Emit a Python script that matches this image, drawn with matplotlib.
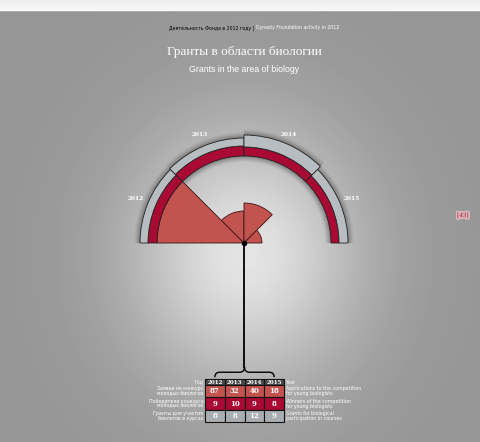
#!/usr/bin/env python3

"""Grants in the area of biology: polar 'gauge' of applications, winners and grants, with a table."""

import numpy as np
from matplotlib import pyplot as plt
from matplotlib.patches import Rectangle, PathPatch
from matplotlib.path import Path
import matplotlib.patheffects as pe

years = ["2012", "2013", "2014", "2015"]
applications = [87, 32, 40, 18]
winners = [9, 10, 9, 8]
grants = [8, 8, 12, 9]

labels_ru = ["Год", "Заявки на конкурс\nмолодых биологов",
             "Победители конкурса\nмолодых биологов",
             "Гранты для участия\nбиологов в курсах"]
labels_en = ["Year", "Applications to the competition\nfor young biologists",
             "Winners of the competition\nfor young biologists",
             "Grants for biological\nparticipation in courses"]

SALMON = "#c2534f"
CRIMSON = "#a80a33"
GREY = "#b8bdc2"
W, H = 481, 442

fig = plt.figure(figsize=(W / 100, H / 100), dpi=100)

# background: radial grey gradient with a light strip on top
bg = fig.add_axes([0, 0, 1, 1])
yy, xx = np.mgrid[0:H, 0:W]
d = np.hypot(xx - 245, (yy - 255) * 0.9)
img = 150 + 78 * np.exp(-(d / 115) ** 2)
img[:11] = np.linspace(236, 248, 11)[:, None]
img[11] = 175
bg.imshow(img, cmap="gray", vmin=0, vmax=255, aspect="auto", interpolation="bilinear")
bg.axis("off")

# header texts
fig.text(254 / W, 1 - 28 / H, "Деятельность Фонда в 2012 году |", fontsize=3.3,
         color="black", ha="right", va="center", family="DejaVu Sans")
fig.text(256 / W, 1 - 28 / H, "Dynasty Foundation activity in 2012", fontsize=3.3,
         color="white", ha="left", va="center", family="DejaVu Sans")
fig.text(244 / W, 1 - 52 / H, "Гранты в области биологии", fontsize=9.5,
         color="white", ha="center", va="center", family="Liberation Serif")
fig.text(244 / W, 1 - 70 / H, "Grants in the area of biology", fontsize=6.3,
         color="white", ha="center", va="center", family="Liberation Sans")
fig.text(463 / W, 1 - 216 / H, "[43]", fontsize=5, color=CRIMSON, ha="center", va="center",
         family="Liberation Serif",
         path_effects=[pe.withStroke(linewidth=2.5, foreground="#d9b8bc")])

# polar gauge, 1 unit = 1 px, centre at (244, 243)
R = 130
ax = fig.add_axes([(244 - R) / W, (H - 243 - R) / H, 2 * R / W, 2 * R / H], projection="polar")
ax.set_ylim(0, R)
ax.axis("off")
theta = np.radians([157.5, 112.5, 67.5, 22.5])
width = np.radians(45)
base = max(applications)
ring = base + np.array(winners)

# soft shadow under the ring
for k, a in zip(range(6, 0, -1), [0.03, 0.04, 0.05, 0.06, 0.07, 0.08]):
    ax.bar(theta, np.array(winners) + np.array(grants) + 2 * k, width=width,
           bottom=base - k, color="black", alpha=a, linewidth=0)

ax.bar(theta, applications, width=width, bottom=0, color=SALMON,
       edgecolor="#3a1414", linewidth=0.6, zorder=3)
ax.bar(theta, winners, width=width, bottom=base, color=CRIMSON,
       edgecolor="#222222", linewidth=0.6, zorder=3)
ax.bar(theta, grants, width=width, bottom=ring, color=GREY,
       edgecolor="#222222", linewidth=0.6, zorder=3)
for t, y in zip(theta, years):
    ax.text(t, 117, y, color="white", fontsize=4.2, fontweight="bold",
            ha="center", va="center", family="DejaVu Serif")
ax.plot([1.5 * np.pi] * 2, [0, 124], color="black", linewidth=1.3, zorder=4, clip_on=False)
ax.plot([0], [0], "o", color="black", markersize=3, zorder=5)

# table under the gauge
tb = fig.add_axes([205 / W, (H - 422) / H, 79 / W, 43 / H])
tb.set_xlim(0, 4)
tb.set_ylim(3.5, 0)
tb.axis("off")
rows = [years, applications, winners, grants]
row_colors = ["#4a4a4a", SALMON, CRIMSON, "#a9aeb3"]
tops = [0, 0.5, 1.5, 2.5]
heights = [0.5, 1, 1, 1]
for r, (vals, col, top, h) in enumerate(zip(rows, row_colors, tops, heights)):
    for c, v in enumerate(vals):
        tb.add_patch(Rectangle((c, top), 1, h, facecolor=col, edgecolor="#111111",
                               linewidth=0.8, clip_on=False))
        tb.text(c + 0.5, top + h / 2, str(v), color="white", ha="center", va="center",
                fontsize=4 if r == 0 else 5, fontweight="bold", family="DejaVu Serif")
    tb.text(-0.08, top + h / 2, labels_ru[r], color="white", ha="right", va="center",
            fontsize=3.4, linespacing=1.0, family="DejaVu Sans", clip_on=False)
    tb.text(4.08, top + h / 2, labels_en[r], color="white", ha="left", va="center",
            fontsize=3.4, linespacing=1.0, family="DejaVu Sans", clip_on=False)

# brace linking the line to the year columns
verts = [(0.5, -0.15), (0.5, -0.55), (0.75, -0.55), (1.75, -0.55), (2.0, -0.55), (2.0, -0.98),
         (2.0, -0.55), (2.25, -0.55), (3.25, -0.55), (3.5, -0.55), (3.5, -0.15)]
codes = [Path.MOVETO, Path.CURVE3, Path.CURVE3, Path.LINETO, Path.CURVE3, Path.CURVE3,
         Path.CURVE3, Path.CURVE3, Path.LINETO, Path.CURVE3, Path.CURVE3]
tb.add_patch(PathPatch(Path(verts, codes), facecolor="none", edgecolor="black",
                       linewidth=1.0, clip_on=False))

plt.savefig("out.png", dpi=100)
